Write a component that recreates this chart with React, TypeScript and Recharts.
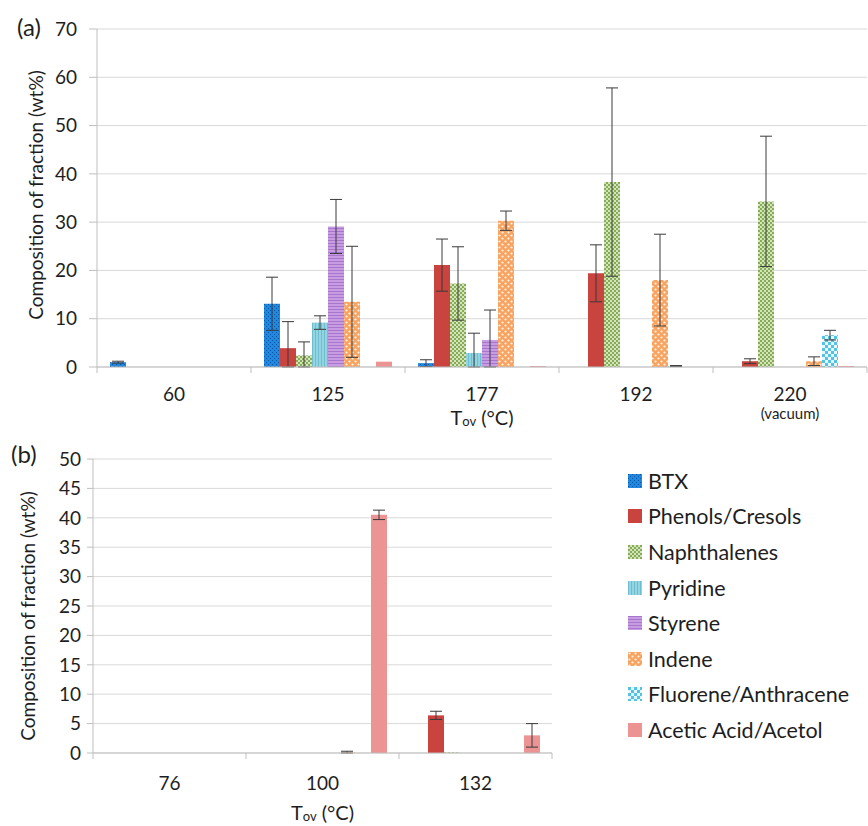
import React from 'react'
import { BarChart, Bar, XAxis, YAxis, CartesianGrid, ErrorBar } from 'recharts'

// series names, in bar order
const SERIES = [
  'BTX',
  'Phenols/Cresols',
  'Naphthalenes',
  'Pyridine',
  'Styrene',
  'Indene',
  'Fluorene/Anthracene',
  'Acetic Acid/Acetol',
]

// fill for each series (patterns are defined below)
const FILLS = [
  'url(#pat-btx)',
  '#c9433f',
  'url(#pat-naph)',
  'url(#pat-pyr)',
  'url(#pat-sty)',
  'url(#pat-ind)',
  'url(#pat-flu)',
  '#ec9494',
]

// (a) oven temperatures
const tempsA = ['60', '125', '177', '192', '220']
const btxA = [1.0, 13.1, 0.8, 0, 0]
const btxErrA = [0.2, 5.5, 0.7, 0, 0]
const phenolsA = [0, 3.9, 21.1, 19.4, 1.2]
const phenolsErrA = [0, 5.5, 5.4, 5.9, 0.5]
const naphA = [0, 2.4, 17.3, 38.3, 34.3]
const naphErrA = [0, 2.8, 7.6, 19.5, 13.5]
const pyridineA = [0, 9.2, 2.9, 0, 0]
const pyridineErrA = [0, 1.4, 4.1, 0, 0]
const styreneA = [0, 29.1, 5.6, 0, 0]
const styreneErrA = [0, 5.6, 6.2, 0.7, 0]
const indeneA = [0, 13.5, 30.3, 18.0, 1.2]
const indeneErrA = [0, 11.5, 2.0, 9.5, 0.9]
const fluoreneA = [0, 0, 0, 0.2, 6.6]
const fluoreneErrA = [0, 0, 0, 0.1, 1.0]
const aceticA = [0, 1.1, 0.2, 0, 0.2]
const aceticErrA = [0, 0, 0, 0, 0]

// (b) oven temperatures
const tempsB = ['76', '100', '132']
const btxB = [0, 0, 0]
const btxErrB = [0, 0.1, 0]
const phenolsB = [0, 0, 6.4]
const phenolsErrB = [0, 0, 0.7]
const naphB = [0, 0, 0.1]
const naphErrB = [0, 0, 0]
const pyridineB = [0, 0, 0]
const pyridineErrB = [0, 0, 0]
const styreneB = [0, 0, 0]
const styreneErrB = [0, 0, 0]
const indeneB = [0, 0.1, 0]
const indeneErrB = [0, 0.2, 0]
const fluoreneB = [0, 0, 0]
const fluoreneErrB = [0, 0, 0]
const aceticB = [0, 40.5, 3.0]
const aceticErrB = [0, 0.8, 2.0]

const ticksA = [0, 10, 20, 30, 40, 50, 60, 70]
const ticksB = [0, 5, 10, 15, 20, 25, 30, 35, 40, 45, 50]

const FONT = 'Lato, "Open Sans", sans-serif'
const TEXT = '#1e1e1e'
const AXIS = '#bfbfbf'
const GRID = '#d9d9d9'

// error bars are cut at the zero line, as in the source
function buildRows(temps: string[], values: number[][], errors: number[][]) {
  return temps.map((t, i) => {
    const row: Record<string, any> = { name: t }
    values.forEach((v, s) => {
      const e = errors[s][i]
      row[`s${s}`] = v[i]
      row[`e${s}`] = e ? [Math.min(e, v[i]), e] : null
    })
    return row
  })
}

const dataA = buildRows(
  tempsA,
  [btxA, phenolsA, naphA, pyridineA, styreneA, indeneA, fluoreneA, aceticA],
  [btxErrA, phenolsErrA, naphErrA, pyridineErrA, styreneErrA, indeneErrA, fluoreneErrA, aceticErrA],
)
const dataB = buildRows(
  tempsB,
  [btxB, phenolsB, naphB, pyridineB, styreneB, indeneB, fluoreneB, aceticB],
  [btxErrB, phenolsErrB, naphErrB, pyridineErrB, styreneErrB, indeneErrB, fluoreneErrB, aceticErrB],
)

function Patterns() {
  return (
    <svg width={0} height={0} style={{ position: 'absolute' }}>
      <defs>
        <pattern id="pat-btx" width={4} height={4} patternUnits="userSpaceOnUse">
          <rect width={4} height={4} fill="#2287de" />
          <rect x={0} y={0} width={1} height={1} fill="#0b57a6" />
          <rect x={2} y={2} width={1} height={1} fill="#0b57a6" />
        </pattern>
        <pattern id="pat-naph" width={4} height={4} patternUnits="userSpaceOnUse">
          <rect width={4} height={4} fill="#d4e5bd" />
          <rect x={0} y={0} width={2} height={2} fill="#86ad55" />
          <rect x={2} y={2} width={2} height={2} fill="#86ad55" />
        </pattern>
        <pattern id="pat-pyr" width={3} height={3} patternUnits="userSpaceOnUse">
          <rect width={3} height={3} fill="#93d4e0" />
          <rect x={0} y={0} width={1} height={3} fill="#6cbfd0" />
        </pattern>
        <pattern id="pat-sty" width={3} height={3} patternUnits="userSpaceOnUse">
          <rect width={3} height={3} fill="#c79ce2" />
          <rect x={0} y={0} width={3} height={1} fill="#a877cc" />
        </pattern>
        <pattern id="pat-ind" width={6} height={6} patternUnits="userSpaceOnUse">
          <rect width={6} height={6} fill="#f8a461" />
          <circle cx={1.5} cy={1.5} r={1.1} fill="#fff4ea" />
          <circle cx={4.5} cy={4.5} r={1.1} fill="#fff4ea" />
        </pattern>
        <pattern id="pat-flu" width={6} height={6} patternUnits="userSpaceOnUse">
          <rect width={6} height={6} fill="#e8f7fc" />
          <rect x={0} y={0} width={3} height={3} fill="#52c3e2" />
          <rect x={3} y={3} width={3} height={3} fill="#52c3e2" />
        </pattern>
      </defs>
    </svg>
  )
}

// category tick with Excel-style boundary marks
function makeTick(band: number, count: number, labelGap: number) {
  return (props: any) => {
    const { x, y, payload, index } = props
    return (
      <g>
        <line x1={x - band / 2} x2={x - band / 2} y1={y} y2={y + 6} stroke={AXIS} />
        {index === count - 1 && (
          <line x1={x + band / 2} x2={x + band / 2} y1={y} y2={y + 6} stroke={AXIS} />
        )}
        <text x={x} y={y + labelGap} textAnchor="middle" dominantBaseline="central"
          fontSize={19} fontFamily={FONT} fill={TEXT}>
          {payload.value}
        </text>
        {payload.value === '220' && (
          <text x={x} y={y + labelGap + 20} textAnchor="middle" dominantBaseline="central"
            fontSize={15} fontFamily={FONT} fill={TEXT}>
            (vacuum)
          </text>
        )}
      </g>
    )
  }
}

function xTitle(gap: number) {
  return (props: any) => {
    const vb = props.viewBox
    return (
      <text x={vb.x + vb.width / 2} y={vb.y + gap} textAnchor="middle" dominantBaseline="central"
        fontSize={20} fontFamily={FONT} fill={TEXT}>
        T<tspan fontSize={13} dy={4}>ov</tspan><tspan dy={-4}> (°C)</tspan>
      </text>
    )
  }
}

function yTitle(cx: number, shift: number) {
  return (props: any) => {
    const vb = props.viewBox
    const cy = vb.y + vb.height / 2 + shift
    return (
      <text x={cx} y={cy} transform={`rotate(-90 ${cx} ${cy})`} textAnchor="middle"
        dominantBaseline="central" fontSize={19} fontFamily={FONT} fill={TEXT}>
        Composition of fraction (wt%)
      </text>
    )
  }
}

function renderBars() {
  return SERIES.map((name, s) => (
    <Bar key={name} dataKey={`s${s}`} name={name} fill={FILLS[s]} isAnimationActive={false}>
      <ErrorBar dataKey={`e${s}`} width={6} strokeWidth={1} stroke="#3a3a3a" direction="y"
        isAnimationActive={false} />
    </Bar>
  ))
}

const tickStyle = { fontSize: 19, fontFamily: FONT, fill: TEXT }

export default function App() {
  return (
    <div style={{ position: 'absolute', left: 0, top: 0, width: 868, height: 826, background: '#fff' }}>
      <Patterns />

      <div style={{ position: 'absolute', left: 17, top: 12, fontSize: 24, fontFamily: FONT, color: TEXT }}>(a)</div>
      <div style={{ position: 'absolute', left: 0, top: 0 }}>
        <BarChart width={868} height={440} data={dataA} barGap={0} barCategoryGap={13}
          margin={{ top: 29, right: 1, left: 0, bottom: 23 }}>
          <CartesianGrid vertical={false} stroke={GRID} />
          <XAxis dataKey="name" height={50} tickLine={false} tickSize={0} tickMargin={0}
            stroke={AXIS} interval={0} tick={makeTick(154, tempsA.length, 26)}
            label={xTitle(50)} />
          <YAxis width={97} domain={[0, 70]} ticks={ticksA} stroke={AXIS} tickSize={8}
            tickMargin={12} tick={tickStyle} label={yTitle(35, -3)} />
          {renderBars()}
        </BarChart>
      </div>

      <div style={{ position: 'absolute', left: 11, top: 439, fontSize: 24, fontFamily: FONT, color: TEXT }}>(b)</div>
      <div style={{ position: 'absolute', left: 0, top: 400 }}>
        <BarChart width={868} height={426} data={dataB} barGap={0} barCategoryGap={13}
          margin={{ top: 59, right: 316, left: 0, bottom: 23 }}>
          <CartesianGrid vertical={false} stroke={GRID} />
          <XAxis dataKey="name" height={50} tickLine={false} tickSize={0} tickMargin={0}
            stroke={AXIS} interval={0} tick={makeTick(153, tempsB.length, 29)}
            label={xTitle(59)} />
          <YAxis width={93} domain={[0, 50]} ticks={ticksB} stroke={AXIS} tickSize={6}
            tickMargin={6} tick={tickStyle} label={yTitle(27, 10)} />
          {renderBars()}
        </BarChart>
      </div>

      <div style={{ position: 'absolute', left: 628, top: 463, fontFamily: FONT, color: TEXT, fontSize: 21.5 }}>
        {SERIES.map((name, s) => (
          <div key={name} style={{ display: 'flex', alignItems: 'center', height: 35.6 }}>
            <svg width={14} height={14} style={{ marginRight: 6 }}>
              <rect width={14} height={14} fill={FILLS[s]} />
            </svg>
            <span>{name}</span>
          </div>
        ))}
      </div>
    </div>
  )
}
